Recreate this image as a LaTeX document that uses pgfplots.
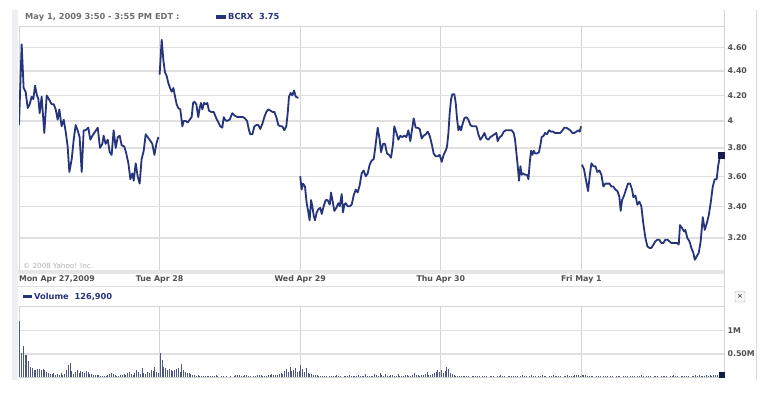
\documentclass[border=0pt]{standalone}
\usepackage{pgfplots}
\pgfplotsset{compat=1.18}
\usepackage{fontspec}
\setmainfont{DejaVu Sans}
\definecolor{navy}{RGB}{38,52,124}
\definecolor{dnavy}{RGB}{18,26,78}
\definecolor{gridc}{RGB}{224,224,224}
\definecolor{vgrid}{RGB}{212,212,212}
\definecolor{lab}{RGB}{80,80,80}
\definecolor{ttl}{RGB}{110,110,110}
\definecolor{volc}{RGB}{78,88,126}
\definecolor{framec}{RGB}{236,240,245}
\definecolor{bandc}{RGB}{230,230,230}
\newcommand\lf{\fontsize{7.9}{9}\selectfont\bfseries}
\begin{document}
\begin{tikzpicture}
\begin{scope}[x=1bp,y=1bp]
\path[use as bounding box] (0,0) rectangle (761,393);
\fill[white] (0,0) rectangle (761,393);
\fill[framec] (12,13) rectangle (18,383);
\draw[framec!80!gray, line width=0.8bp] (756,13) -- (756,383);
\draw[vgrid, line width=0.8bp] (724,383) -- (724,16);
\end{scope}

\begin{axis}[at={(19bp,123bp)}, anchor=south west, scale only axis,
  width=705bp, height=244bp,
  xmin=0, xmax=5.014,
  ymode=log, ymin=3.0106, ymax=4.7948,
  ytick={3.2,3.4,3.6,3.8,4,4.2,4.4,4.6},
  yticklabels={3.20,3.40,3.60,3.80,4,4.20,4.40,4.60},
  yticklabel pos=right,
  yticklabel style={anchor=west, xshift=0bp, font=\lf, text=lab},
  xtick={0,1,2,3,4},
  xticklabels={\makebox[0pt][l]{Mon Apr 27,2009},Tue Apr 28,Wed Apr 29,Thu Apr 30,Fri May 1},
  xticklabel style={anchor=base, yshift=-12bp, font=\lf, text=lab},
  major tick length=0,
  ymajorgrids, xmajorgrids,
  y grid style={gridc, line width=1.2bp},
  x grid style={vgrid, line width=0.8bp},
  axis line style={vgrid, line width=0.8bp},
]
\addplot[navy, line width=1.8bp, line join=round] coordinates {
(0,3.97)(0.019,4.63)(0.033,4.26)(0.047,4.23)(0.062,4.10)(0.076,4.13)(0.090,4.19)(0.102,4.17)(0.114,4.28)(0.128,4.20)(0.138,4.17)(0.147,4.06)(0.161,4.19)(0.180,3.91)(0.197,4.20)(0.213,4.17)(0.232,4.13)(0.247,4.13)(0.261,4.09)(0.275,4.01)(0.287,4.09)(0.303,3.96)(0.318,4.01)(0.332,3.92)(0.346,3.81)(0.358,3.63)(0.375,3.72)(0.389,3.86)(0.403,3.97)(0.417,3.93)(0.431,3.88)(0.446,3.63)(0.460,3.93)(0.474,3.93)(0.493,3.95)(0.507,3.86)(0.522,3.89)(0.541,3.92)(0.560,3.95)(0.576,3.80)(0.593,3.83)(0.602,3.89)(0.616,3.83)(0.631,3.86)(0.645,3.77)(0.659,3.75)(0.673,3.93)(0.688,3.80)(0.702,3.88)(0.716,3.89)(0.730,3.82)(0.749,3.81)(0.763,3.76)(0.778,3.69)(0.792,3.58)(0.806,3.62)(0.816,3.57)(0.830,3.69)(0.844,3.60)(0.858,3.55)(0.872,3.72)(0.887,3.78)(0.901,3.90)(0.915,3.88)(0.929,3.86)(0.948,3.83)(0.963,3.75)(0.977,3.83)(0.991,3.88)
};
\addplot[navy, line width=1.8bp, line join=round] coordinates {
(1.000,4.37)(1.015,4.67)(1.027,4.49)(1.038,4.39)(1.050,4.36)(1.062,4.30)(1.074,4.26)(1.086,4.23)(1.098,4.26)(1.110,4.19)(1.121,4.13)(1.133,4.10)(1.147,4.09)(1.162,3.96)(1.171,4.00)(1.185,4.00)(1.200,3.99)(1.214,4.01)(1.228,4.03)(1.238,4.14)(1.247,4.15)(1.261,4.13)(1.275,4.03)(1.285,4.10)(1.294,4.14)(1.304,4.09)(1.316,4.14)(1.328,4.13)(1.339,4.14)(1.351,4.08)(1.366,4.07)(1.385,4.07)(1.403,4.02)(1.418,3.99)(1.432,3.96)(1.446,3.95)(1.456,4.03)(1.465,4.01)(1.479,4.00)(1.498,4.01)(1.517,4.06)(1.536,4.04)(1.555,4.03)(1.574,4.03)(1.593,4.03)(1.607,4.02)(1.622,4.00)(1.636,3.93)(1.645,3.90)(1.660,3.90)(1.674,3.96)(1.688,3.97)(1.702,3.97)(1.716,3.94)(1.731,3.98)(1.745,4.03)(1.759,4.07)(1.773,4.09)(1.788,4.08)(1.802,4.07)(1.816,4.07)(1.830,4.03)(1.844,3.97)(1.859,3.96)(1.873,3.96)(1.887,3.93)(1.901,3.96)(1.911,4.06)(1.920,4.19)(1.932,4.22)(1.944,4.20)(1.956,4.24)(1.968,4.19)(1.987,4.18)
};
\addplot[navy, line width=1.8bp, line join=round] coordinates {
(2.000,3.60)(2.010,3.51)(2.020,3.55)(2.034,3.53)(2.046,3.42)(2.058,3.36)(2.067,3.31)(2.077,3.44)(2.086,3.40)(2.096,3.34)(2.105,3.31)(2.117,3.36)(2.129,3.38)(2.143,3.39)(2.153,3.35)(2.167,3.40)(2.181,3.44)(2.195,3.44)(2.210,3.41)(2.219,3.49)(2.229,3.44)(2.243,3.37)(2.257,3.39)(2.271,3.42)(2.281,3.40)(2.295,3.48)(2.304,3.36)(2.314,3.41)(2.323,3.42)(2.338,3.40)(2.352,3.40)(2.366,3.41)(2.380,3.47)(2.395,3.51)(2.409,3.49)(2.423,3.54)(2.437,3.62)(2.451,3.64)(2.466,3.60)(2.480,3.62)(2.494,3.68)(2.508,3.71)(2.523,3.72)(2.537,3.83)(2.551,3.95)(2.565,3.86)(2.575,3.77)(2.589,3.83)(2.603,3.83)(2.617,3.76)(2.632,3.75)(2.646,3.73)(2.660,3.83)(2.669,3.96)(2.684,3.91)(2.698,3.86)(2.712,3.89)(2.726,3.88)(2.741,3.89)(2.755,3.88)(2.769,3.93)(2.783,3.85)(2.793,3.92)(2.807,4.02)(2.821,3.95)(2.835,3.95)(2.850,3.94)(2.864,3.87)(2.878,3.89)(2.892,3.90)(2.907,3.92)(2.921,3.89)(2.935,3.83)(2.949,3.76)(2.963,3.74)(2.978,3.74)(2.992,3.75)(3.006,3.70)(3.020,3.75)(3.035,3.78)(3.044,3.81)(3.054,3.91)(3.063,4.06)(3.073,4.17)(3.082,4.21)(3.096,4.21)(3.106,4.14)(3.115,4.02)(3.125,3.93)(3.134,3.96)(3.144,3.93)(3.153,3.97)(3.167,4.02)(3.182,4.03)(3.196,4.01)(3.210,3.97)(3.224,3.96)(3.238,3.96)(3.253,3.96)(3.267,3.90)(3.281,3.86)(3.295,3.88)(3.310,3.91)(3.324,3.87)(3.338,3.86)(3.352,3.88)(3.367,3.89)(3.381,3.90)(3.395,3.91)(3.404,3.85)(3.419,3.88)(3.433,3.89)(3.447,3.92)(3.461,3.93)(3.476,3.93)(3.490,3.93)(3.504,3.93)(3.518,3.91)(3.528,3.86)(3.537,3.77)(3.547,3.67)(3.556,3.57)(3.566,3.67)(3.575,3.61)(3.585,3.62)(3.599,3.61)(3.613,3.61)(3.623,3.58)(3.632,3.69)(3.642,3.78)(3.651,3.75)(3.661,3.78)(3.670,3.76)(3.684,3.76)(3.698,3.77)(3.708,3.82)(3.717,3.88)(3.732,3.89)(3.741,3.91)(3.755,3.90)(3.770,3.93)(3.784,3.92)(3.798,3.92)(3.812,3.91)(3.831,3.91)(3.850,3.91)(3.865,3.93)(3.879,3.95)(3.893,3.95)(3.907,3.94)(3.921,3.93)(3.935,3.91)(3.950,3.91)(3.964,3.92)(3.978,3.93)(3.988,3.92)(3.997,3.96)
};
\addplot[navy, line width=1.8bp, line join=round] coordinates {
(4.004,3.68)(4.018,3.65)(4.033,3.57)(4.047,3.50)(4.061,3.62)(4.071,3.69)(4.085,3.67)(4.099,3.67)(4.113,3.63)(4.128,3.64)(4.142,3.61)(4.156,3.53)(4.170,3.55)(4.184,3.55)(4.199,3.55)(4.213,3.53)(4.227,3.53)(4.241,3.51)(4.256,3.50)(4.270,3.46)(4.279,3.37)(4.289,3.44)(4.303,3.47)(4.317,3.51)(4.331,3.55)(4.346,3.55)(4.360,3.51)(4.369,3.46)(4.384,3.47)(4.398,3.41)(4.412,3.43)(4.426,3.40)(4.440,3.29)(4.455,3.20)(4.469,3.15)(4.483,3.14)(4.497,3.14)(4.512,3.16)(4.526,3.18)(4.540,3.19)(4.554,3.19)(4.568,3.17)(4.583,3.17)(4.597,3.19)(4.611,3.19)(4.625,3.18)(4.640,3.17)(4.654,3.17)(4.668,3.17)(4.682,3.17)(4.692,3.16)(4.701,3.28)(4.716,3.26)(4.730,3.24)(4.739,3.25)(4.753,3.20)(4.768,3.18)(4.782,3.14)(4.796,3.11)(4.806,3.07)(4.820,3.09)(4.834,3.11)(4.848,3.18)(4.863,3.33)(4.877,3.25)(4.891,3.29)(4.905,3.34)(4.919,3.42)(4.934,3.53)(4.948,3.58)(4.962,3.58)(4.972,3.67)(4.981,3.72)(4.995,3.75)
};
\addplot[only marks, mark=square*, mark size=3bp, dnavy] coordinates {(4.995,3.75)};
\end{axis}

\begin{axis}[at={(19bp,15.7bp)}, anchor=south west, scale only axis,
  width=705bp, height=71.3bp,
  xmin=0, xmax=5.014, ymin=0, ymax=1.53,
  ytick={0.5,1}, yticklabels={0.50M,1M},
  yticklabel pos=right,
  yticklabel style={anchor=west, font=\lf, text=lab},
  xtick={1,2,3,4}, xticklabels={},
  major tick length=0,
  ymajorgrids, xmajorgrids,
  y grid style={gridc, line width=1.2bp},
  x grid style={vgrid, line width=0.8bp},
  axis line style={vgrid, line width=0.8bp},
]
\addplot[ycomb, volc, line width=0.9bp] table[row sep=\\, header=false, x expr=\coordindex/78+0.004, y index=0] {
1.21\\0.53\\0.67\\0.47\\0.47\\0.35\\0.22\\0.19\\0.15\\0.16\\
0.17\\0.17\\0.16\\0.17\\0.15\\0.12\\0.10\\0.08\\0.07\\0.09\\
0.06\\0.08\\0.05\\0.10\\0.06\\0.08\\0.15\\0.26\\0.31\\0.14\\
0.08\\0.12\\0.15\\0.10\\0.13\\0.12\\0.10\\0.14\\0.11\\0.08\\
0.07\\0.06\\0.05\\0.06\\0.04\\0.03\\0.03\\0.03\\0.03\\0.04\\
0.08\\0.10\\0.07\\0.05\\0.03\\0.03\\0.04\\0.06\\0.08\\0.05\\
0.10\\0.12\\0.07\\0.05\\0.10\\0.15\\0.12\\0.08\\0.20\\0.10\\
0.08\\0.12\\0.10\\0.15\\0.14\\0.22\\0.12\\0.10\\
};
\addplot[ycomb, volc, line width=0.9bp] table[row sep=\\, header=false, x expr=\coordindex/78+1.004, y index=0] {
0.53\\0.37\\0.23\\0.19\\0.15\\0.17\\0.15\\0.13\\0.15\\0.17\\
0.19\\0.12\\0.28\\0.15\\0.12\\0.09\\0.10\\0.07\\0.05\\0.04\\
0.03\\0.04\\0.03\\0.03\\0.03\\0.02\\0.02\\0.03\\0.02\\0.02\\
0.03\\0.04\\0.02\\0\\0.02\\0.03\\0\\0.02\\0\\0.02\\
0\\0.03\\0.04\\0.05\\0.04\\0.03\\0.03\\0.04\\0.05\\0.03\\
0.02\\0\\0.03\\0.02\\0.04\\0.05\\0.06\\0.03\\0.02\\0.03\\
0.04\\0.05\\0.07\\0.05\\0.04\\0.06\\0.07\\0.10\\0.08\\0.14\\
0.18\\0.12\\0.23\\0.14\\0.16\\0.20\\0.12\\0.14\\
};
\addplot[ycomb, volc, line width=0.9bp] table[row sep=\\, header=false, x expr=\coordindex/78+2.004, y index=0] {
0.26\\0.18\\0.12\\0.20\\0.10\\0.08\\0.07\\0.06\\0.05\\0.04\\
0.03\\0.02\\0.03\\0.02\\0.02\\0\\0.02\\0.03\\0.02\\0.02\\
0.04\\0.03\\0.02\\0\\0.02\\0.03\\0.02\\0.06\\0.03\\0.02\\
0.02\\0.03\\0.05\\0.03\\0.02\\0.02\\0.08\\0.03\\0.02\\0.03\\
0.02\\0.07\\0.04\\0.03\\0.09\\0.05\\0.03\\0.08\\0.03\\0.02\\
0.04\\0.05\\0.03\\0.02\\0.08\\0.03\\0.02\\0.03\\0.04\\0.06\\
0.03\\0.02\\0.05\\0.10\\0.06\\0.04\\0.03\\0.05\\0.04\\0.08\\
0.12\\0.05\\0.06\\0.08\\0.10\\0.12\\0.15\\0.12\\
};
\addplot[ycomb, volc, line width=0.9bp] table[row sep=\\, header=false, x expr=\coordindex/78+3.004, y index=0] {
0.16\\0.10\\0.14\\0.22\\0.18\\0.10\\0.07\\0.05\\0.03\\0.02\\
0.02\\0.03\\0.02\\0.02\\0.03\\0.02\\0\\0.02\\0.03\\0.02\\
0.02\\0.03\\0\\0.02\\0.02\\0.03\\0\\0.02\\0.03\\0.02\\
0\\0.03\\0.02\\0.04\\0.03\\0.02\\0\\0.03\\0.02\\0.02\\
0.03\\0.02\\0.03\\0\\0.02\\0.04\\0.03\\0.02\\0\\0.03\\
0.04\\0.02\\0.02\\0\\0.02\\0.03\\0.04\\0.03\\0.02\\0\\
0.02\\0.03\\0.04\\0.03\\0.02\\0.03\\0.02\\0\\0.02\\0.03\\
0.04\\0.03\\0.02\\0.03\\0.04\\0.06\\0.04\\0.03\\
};
\addplot[ycomb, volc, line width=0.9bp] table[row sep=\\, header=false, x expr=\coordindex/78+4.004, y index=0] {
0.06\\0.05\\0.04\\0.03\\0.02\\0.03\\0.02\\0\\0.02\\0.03\\
0.02\\0\\0.02\\0.02\\0.03\\0\\0.02\\0.02\\0\\0.03\\
0.02\\0.02\\0\\0.02\\0.03\\0.02\\0\\0.02\\0.02\\0.03\\
0\\0.02\\0.03\\0.04\\0.02\\0\\0.02\\0.03\\0.02\\0\\
0.02\\0.02\\0.03\\0\\0.02\\0.02\\0.03\\0.02\\0\\0.02\\
0.03\\0.04\\0.03\\0.02\\0\\0.02\\0.02\\0.03\\0.02\\0.02\\
0\\0.02\\0.03\\0.04\\0.03\\0.04\\0.03\\0.02\\0.03\\0.04\\
0.03\\0.04\\0.03\\0.04\\0.05\\0.04\\0.05\\0.06\\
};
\addplot[only marks, mark=square*, mark size=2.5bp, dnavy] coordinates {(4.995,0.05)};
\end{axis}

\begin{scope}[x=1bp,y=1bp]
\fill[bandc] (18,393-273.5) rectangle (724,393-270);
\draw[gridc, line width=0.8bp] (18,393-286.5) -- (724,393-286.5);
\node[anchor=base west, inner sep=0, text=gray!60, font=\fontsize{7.2}{8}\selectfont] at (23,393-268) {© 2008 Yahoo! Inc.};
% header
\node[anchor=base west, inner sep=0, text=ttl, font=\fontsize{8.3}{9}\selectfont\bfseries] at (25,393-19.5) {May 1, 2009 3:50 - 3:55 PM EDT :};
\fill[navy] (216,393-19.3) rectangle (226,393-15.3);
\node[anchor=base west, inner sep=0, text=navy, font=\fontsize{8.3}{9}\selectfont\bfseries] at (228,393-19.5) {BCRX\ \ 3.75};
% volume legend
\fill[navy] (23,393-298.3) rectangle (32,393-294.5);
\node[anchor=base west, inner sep=0, text=navy, font=\fontsize{8.3}{9}\selectfont\bfseries] at (34,393-299) {Volume\ \ 126,900};
% close button
\draw[gray!60, fill=gray!8, rounded corners=1bp] (735,393-302) rectangle (745,393-291.5);
\node[inner sep=0, text=lab, font=\fontsize{7}{8}\selectfont\bfseries] at (740,393-296.8) {×};
\end{scope}
\end{tikzpicture}
\end{document}
